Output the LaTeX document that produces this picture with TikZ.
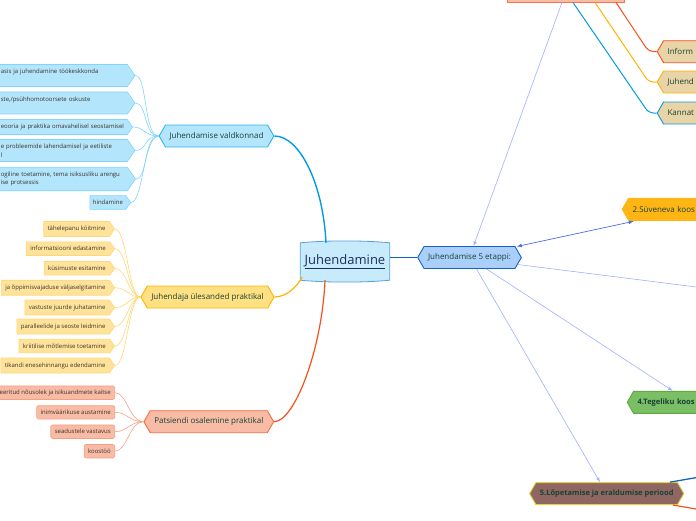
\documentclass[tikz,border=0pt]{standalone}
\usepackage{fontspec}
\setmainfont{Open Sans}
\usepackage{xcolor}
\usetikzlibrary{arrows}
\usetikzlibrary{shapes.symbols, calc, backgrounds}
\definecolor{mytext}{RGB}{24,66,52}
\definecolor{myleaftext}{RGB}{60,50,40}
\definecolor{mycyan}{RGB}{3,155,229}
\definecolor{mycyanfill}{RGB}{179,229,252}
\definecolor{mycyanline}{RGB}{41,182,246}
\definecolor{mycyanlight}{RGB}{129,212,250}
\definecolor{myamber}{RGB}{255,179,0}
\definecolor{myamberfill}{RGB}{255,224,130}
\definecolor{myamberleaf}{RGB}{255,227,155}
\definecolor{myamberlight}{RGB}{255,214,120}
\definecolor{myamberdeep}{RGB}{255,182,20}
\definecolor{myred}{RGB}{244,81,30}
\definecolor{myredfill}{RGB}{248,187,165}
\definecolor{myredlight}{RGB}{246,160,130}
\definecolor{myblue}{RGB}{21,101,192}
\definecolor{mybluefill}{RGB}{170,207,250}
\definecolor{myspoke}{RGB}{160,175,255}
\definecolor{myspokedark}{RGB}{70,110,235}
\definecolor{mytan}{RGB}{232,212,166}
\definecolor{mygreen}{RGB}{122,190,102}
\definecolor{mygreenline}{RGB}{96,170,60}
\definecolor{mybrown}{RGB}{143,102,98}
\definecolor{mygold}{RGB}{228,210,60}
\definecolor{mycenfill}{RGB}{200,235,251}
\definecolor{mycenline}{RGB}{90,160,215}
\definecolor{mynavy}{RGB}{27,47,91}

\tikzset{
  hex/.style={signal, signal to=east and west, signal pointer angle=120, draw,
    line width=0.9, minimum height=22, inner xsep=4, inner ysep=2, text=mytext,
    font=\fontsize{8}{9.5}\selectfont},
  leaf/.style={signal, signal to=east, signal pointer angle=110, draw,
    line width=0.6, minimum height=13.5, inner xsep=4, inner ysep=4.5,
    text=myleaftext, font=\fontsize{6}{8.5}\selectfont},
  vleaf/.style={leaf, fill=mycyanfill, draw=mycyanlight, inner xsep=2.5,
    text width=124, align=left, anchor=west},
  uleaf/.style={leaf, fill=myamberleaf, draw=myamberlight, anchor=east},
  pleaf/.style={rectangle, rounded corners=2, draw=myredlight, fill=myredfill,
    line width=0.6, minimum height=13.5, inner xsep=4, inner ysep=3,
    text=myleaftext, font=\fontsize{6}{8.5}\selectfont, anchor=east},
  stagebox/.style={hex, text width=80, align=left, anchor=west},
  spoke/.style={draw=myspoke, line width=0.6}
}

\begin{document}
\begin{tikzpicture}[x=1pt,y=-1pt]
\useasboundingbox (0,0) rectangle (696,520);
\clip (0,0) rectangle (696,520);

% centre
\node[minimum width=89, minimum height=37, text=mynavy,
  font=\fontsize{13}{15}\selectfont] (cen) at (345,261.5) {\underline{Juhendamine}};
\begin{scope}[on background layer]
\filldraw[fill=mycenfill, draw=mycenline, line width=0.8]
  (cen.north west) .. controls +(25,-2.5) and +(-25,-2.5) .. (cen.north east)
  -- (cen.south east) .. controls +(-25,2.5) and +(25,2.5) .. (cen.south west) -- cycle;
\end{scope}

% left branches
\node[hex, fill=mycyanfill, draw=mycyanline] (valdk) at (216.5,136) {Juhendamise valdkonnad};
\node[hex, fill=myamberfill, draw=myamber] (ules) at (207.5,297) {Juhendaja ülesanded praktikal};
\node[hex, fill=myredfill, draw=myred!85] (pats) at (208.8,421.7) {Patsiendi osalemine praktikal};

\draw[mycyan, line width=1.4] ($(cen.north)+(-19,0)$) .. controls +(-3,-60) and +(25,0) .. (valdk.east);
\draw[myamber, line width=1.2] ($(cen.south west)+(2,-3)$) .. controls +(-6,10) and +(12,0) .. (ules.east);
\draw[myred, line width=1.2] ($(cen.south)+(-20,0)$) .. controls +(-3,70) and +(20,0) .. (pats.east);

\node[vleaf] (v1) at (-2,75.5) {asis ja juhendamine töökeskkonda\\\mbox{}};
\node[vleaf] (v2) at (-2,103) {ste,/psühhomotoorsete oskuste\\\mbox{}};
\node[vleaf] (v3) at (-2,127) {\mbox{eooria ja praktika omavahelisel seostamisel}};
\node[vleaf] (v4) at (-2,150.5) {e probleemide lahendamisel ja eetiliste\\l};
\node[vleaf] (v5) at (-2,179) {ogiline toetamine, tema isiksusliku arengu\\ise protsessis};
\node[leaf, fill=mycyanfill, draw=mycyanlight, inner xsep=3, anchor=east] (v6) at (131,202.5) {hindamine};

\draw[mycyanlight, line width=0.6] (valdk.west) .. controls +(-15,0) and +(12,0) .. (v1.east);
\draw[mycyanlight, line width=0.6] (valdk.west) .. controls +(-15,0) and +(12,0) .. (v2.east);
\draw[mycyanlight, line width=0.6] (valdk.west) .. controls +(-15,0) and +(12,0) .. (v3.east);
\draw[mycyanlight, line width=0.6] (valdk.west) .. controls +(-15,0) and +(12,0) .. (v4.east);
\draw[mycyanlight, line width=0.6] (valdk.west) .. controls +(-15,0) and +(12,0) .. (v5.east);
\draw[mycyanlight, line width=0.6] (valdk.west) .. controls +(-15,0) and +(12,0) .. (v6.east);

\node[uleaf] (u1) at (115,229) {tähelepanu köitmine};
\node[uleaf] (u2) at (115,248.7) {informatsiooni edastamine};
\node[uleaf] (u3) at (115,268.3) {küsimuste esitamine};
\node[uleaf] (u4) at (115,287.7) {ja õppimisvajaduse väljaselgitamine};
\node[uleaf] (u5) at (115,307.5) {vastuste juurde juhatamine};
\node[uleaf] (u6) at (115,326.5) {paralleelide ja seoste leidmine};
\node[uleaf] (u7) at (115,346) {kriitilise mõtlemise toetamine};
\node[uleaf] (u8) at (115,365.5) {tikandi enesehinnangu edendamine};

\draw[myamberlight, line width=0.6] (ules.west) .. controls +(-12,0) and +(12,0) .. (u1.east);
\draw[myamberlight, line width=0.6] (ules.west) .. controls +(-12,0) and +(12,0) .. (u2.east);
\draw[myamberlight, line width=0.6] (ules.west) .. controls +(-12,0) and +(12,0) .. (u3.east);
\draw[myamberlight, line width=0.6] (ules.west) .. controls +(-12,0) and +(12,0) .. (u4.east);
\draw[myamberlight, line width=0.6] (ules.west) .. controls +(-12,0) and +(12,0) .. (u5.east);
\draw[myamberlight, line width=0.6] (ules.west) .. controls +(-12,0) and +(12,0) .. (u6.east);
\draw[myamberlight, line width=0.6] (ules.west) .. controls +(-12,0) and +(12,0) .. (u7.east);
\draw[myamberlight, line width=0.6] (ules.west) .. controls +(-12,0) and +(12,0) .. (u8.east);

\node[pleaf] (p1) at (115,392.7) {eeritud nõusolek ja isikuandmete kaitse};
\node[pleaf] (p2) at (115,412.3) {inimväärikuse austamine};
\node[pleaf] (p3) at (115,431.7) {seadustele vastavus};
\node[pleaf] (p4) at (115,451.2) {koostöö};

\draw[myredlight, line width=0.6] (pats.west) .. controls +(-14,0) and +(12,0) .. (p1.east);
\draw[myredlight, line width=0.6] (pats.west) .. controls +(-14,0) and +(12,0) .. (p2.east);
\draw[myredlight, line width=0.6] (pats.west) .. controls +(-14,0) and +(12,0) .. (p3.east);
\draw[myredlight, line width=0.6] (pats.west) .. controls +(-14,0) and +(12,0) .. (p4.east);

% right side
\node[hex, fill=mybluefill, draw=myblue] (etap) at (469.5,257.5) {Juhendamise 5 etappi:};
\draw[myblue, line width=1.3] (etap.west -| cen.east) -- (etap.west);

\node[rectangle, draw=myred!80, fill=myredfill, line width=0.9, minimum width=117,
  minimum height=20, anchor=south] (stage1) at (565.5,2.5) {};
\node[stagebox, fill=myamberdeep, draw=myamberdeep] (stage2) at (621.7,209.3) {2.Süveneva koos};
\coordinate (stage3) at (760,295);
\node[stagebox, fill=mygreen, draw=mygreenline, font=\fontsize{7.5}{9}\selectfont\bfseries] (stage4) at (626.7,402.3) {4.Tegeliku koos};
\node[hex, fill=mybrown, draw=mygold, font=\fontsize{7.5}{9}\selectfont\bfseries] (stage5) at (606.7,493.6) {5.Lõpetamise ja eraldumise periood};

\draw[spoke, latex-] ($(etap.north)+(4,0)$) -- ($(stage1.south)+(-3.5,0)$);
\draw[myspokedark, line width=0.7, latex-latex] ($(etap.east)+(-5,-11)$) -- ($(stage2.west)+(12,12)$);
\draw[spoke] ($(etap.east)+(-4,7)$) -- (stage3);
\draw[spoke, -latex] ($(etap.south)+(17,0)$) -- ($(stage4.west)+(46,-11.5)$);
\draw[spoke, -latex] ($(etap.south)+(7,0)$) -- ($(stage5.north)+(-6.7,0)$);

% stage 1 children
\node[stagebox, fill=mytan, draw=myred] (inform) at (656.7,51.7) {Inform};
\node[stagebox, fill=mytan, draw=myamber] (juhend) at (656.7,82) {Juhend};
\node[stagebox, fill=mytan, draw=mycyan] (kannat) at (656.7,113) {Kannat};

\draw[myred, line width=1, rounded corners=5] ($(stage1.south)+(50.5,0)$) -- ([xshift=-8]inform.west) -- (inform.west);
\draw[myamber, line width=1, rounded corners=5] ($(stage1.south)+(29.5,0)$) -- ([xshift=-8]juhend.west) -- (juhend.west);
\draw[mycyan, line width=1, rounded corners=5] ($(stage1.south)+(7.5,0)$) -- ([xshift=-8]kannat.west) -- (kannat.west);

% stage 5 children
\coordinate (s5a) at (740,470);
\coordinate (s5b) at (740,516.5);
\draw[myblue, line width=1.3] ($(stage5.north)+(63.3,0)$) -- (s5a);
\draw[myred, line width=1.2] ($(stage5.south)+(66.3,0)$) -- (s5b);

\end{tikzpicture}
\end{document}
